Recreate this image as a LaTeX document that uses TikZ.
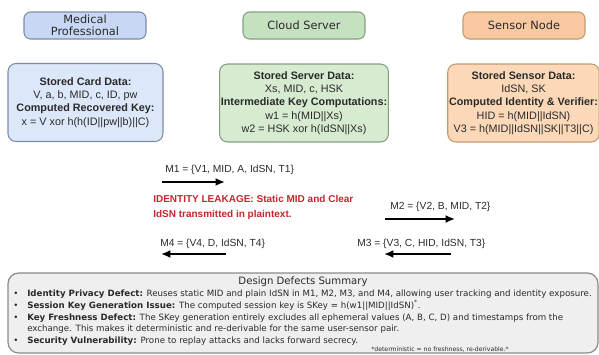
\documentclass[tikz,border=0pt]{standalone}
\usepackage{fontspec}
\setmainfont{Liberation Sans}
\newfontfamily\dvsans{DejaVu Sans}
\usetikzlibrary{arrows.meta}

\definecolor{bluefill}{HTML}{C8D8F4}
\definecolor{bluelite}{HTML}{DCE7F9}
\definecolor{blueline}{HTML}{7C8BA8}
\definecolor{greenfill}{HTML}{C6E1C0}
\definecolor{greenlite}{HTML}{D6EBD0}
\definecolor{greenline}{HTML}{86A07E}
\definecolor{orangefill}{HTML}{F8C9A0}
\definecolor{orangelite}{HTML}{FBD8B8}
\definecolor{orangeline}{HTML}{C29A70}
\definecolor{sumfill}{HTML}{EFEFEF}
\definecolor{sumline}{HTML}{8A8A8A}
\definecolor{ink}{HTML}{2A2A2A}
\definecolor{leak}{HTML}{C4262C}

\tikzset{
  role/.style={draw=#1line, fill=#1fill, rounded corners=5pt, line width=0.8pt,
    minimum width=91.5pt, minimum height=20.25pt, inner sep=1pt, align=center,
    text=ink, font=\dvsans\fontsize{8.5}{9.2}\selectfont},
  databox/.style={draw=#1line, fill=#1lite, rounded corners=6pt, line width=0.8pt,
    minimum height=58.5pt, inner sep=1pt, align=center, text=ink,
    font=\fontsize{8.1}{10}\selectfont},
  msg/.style={line width=1.5pt, -{Latex[length=7pt,width=6pt]}},
  msglabel/.style={anchor=base west, inner sep=0pt, text=ink,
    font=\fontsize{7.7}{9}\selectfont},
  sumline/.style={anchor=base west, inner sep=0pt, text=ink,
    font=\dvsans\fontsize{6.5}{7}\selectfont},
  bullet/.style={anchor=base, inner sep=0pt, text=ink,
    font=\dvsans\fontsize{6.5}{7}\selectfont}
}

\begin{document}
\begin{tikzpicture}[x=0.75pt,y=-0.75pt]
\useasboundingbox (0,0) rectangle (599,354);

% participants
\node[role=blue]   (mp) at (85,25.5)  {Medical\\Professional};
\node[role=green]  (cs) at (304,25.5) {Cloud Server};
\node[role=orange] (sn) at (524,25.5) {Sensor Node};

% stored data of each participant
\node[databox=blue, minimum width=116.25pt] (mpdata) at (85.5,102.5)
  {\textbf{Stored Card Data:}\\V, a, b, MID, c, ID, pw\\
   \textbf{Computed Recovered Key:}\\x = V xor h(h(ID||pw||b)||C)};
\node[databox=green, minimum width=121.5pt] (csdata) at (304,103)
  {\textbf{Stored Server Data:}\\Xs, MID, c, HSK\\
   \textbf{Intermediate Key Computations:}\\w1 = h(MID||Xs)\\w2 = HSK xor h(IdSN||Xs)};
\node[databox=orange, minimum width=110.25pt] (sndata) at (523.5,103)
  {\textbf{Stored Sensor Data:}\\IdSN, SK\\
   \textbf{Computed Identity \& Verifier:}\\HID = h(MID||IdSN)\\V3 = h(MID||IdSN||SK||T3||C)};

% message flow
\coordinate (m1s) at (162,182);  \coordinate (m1e) at (225,182);
\coordinate (m2s) at (385,219);  \coordinate (m2e) at (455,219);
\coordinate (m3s) at (451,254);  \coordinate (m3e) at (384,254);
\coordinate (m4s) at (226,254);  \coordinate (m4e) at (161,254);
\draw[msg] (m1s) -- (m1e);
\draw[msg] (m2s) -- (m2e);
\draw[msg] (m3s) -- (m3e);
\draw[msg] (m4s) -- (m4e);
\node[msglabel] (m1) at (165,172) {M1 = \{V1, MID, A, IdSN, T1\}};
\node[msglabel] (m2) at (390,209) {M2 = \{V2, B, MID, T2\}};
\node[msglabel] (m3) at (357,246) {M3 = \{V3, C, HID, IdSN, T3\}};
\node[msglabel] (m4) at (160,246) {M4 = \{V4, D, IdSN, T4\}};

\node[anchor=north west, inner sep=0pt, align=left, text=leak,
      font=\bfseries\fontsize{7.5}{11.5}\selectfont] (leakage) at (153,195)
  {IDENTITY LEAKAGE: Static MID and Clear\\IdSN transmitted in plaintext.};

% summary of design defects
\node[draw=sumline, fill=sumfill, line width=0.9pt, rounded corners=8pt,
      minimum width=442.5pt, minimum height=60pt, inner sep=0pt] (summary) at (303,313) {};
\node[anchor=base, inner sep=0pt, text=ink, font=\dvsans\fontsize{7.6}{9}\selectfont]
  (sumtitle) at (303,284) {Design Defects Summary};
\foreach \yy in {296,308,320,343} \node[bullet] at (16,\yy) {•};
\node[sumline] (d1) at (27,296) {\textbf{Identity Privacy Defect:} Reuses static MID and plain IdSN in M1, M2, M3, and M4, allowing user tracking and identity exposure.};
\node[sumline] (d2) at (27,308) {\textbf{Session Key Generation Issue:} The computed session key is SKey = h(w1||MID||IdSN)\textsuperscript{*}.};
\node[sumline] (d3) at (27,320) {\textbf{Key Freshness Defect:} The SKey generation entirely excludes all ephemeral values (A, B, C, D) and timestamps from the};
\node[sumline] (d3b) at (27,331.5) {exchange. This makes it deterministic and re-derivable for the same user-sensor pair.};
\node[sumline] (d4) at (27,343) {\textbf{Security Vulnerability:} Prone to replay attacks and lacks forward secrecy.};
\node[anchor=base, inner sep=0pt, text=ink, font=\dvsans\fontsize{4.6}{5}\selectfont]
  (foot) at (440,351) {*deterministic = no freshness, re-derivable.*};
\end{tikzpicture}
\end{document}
